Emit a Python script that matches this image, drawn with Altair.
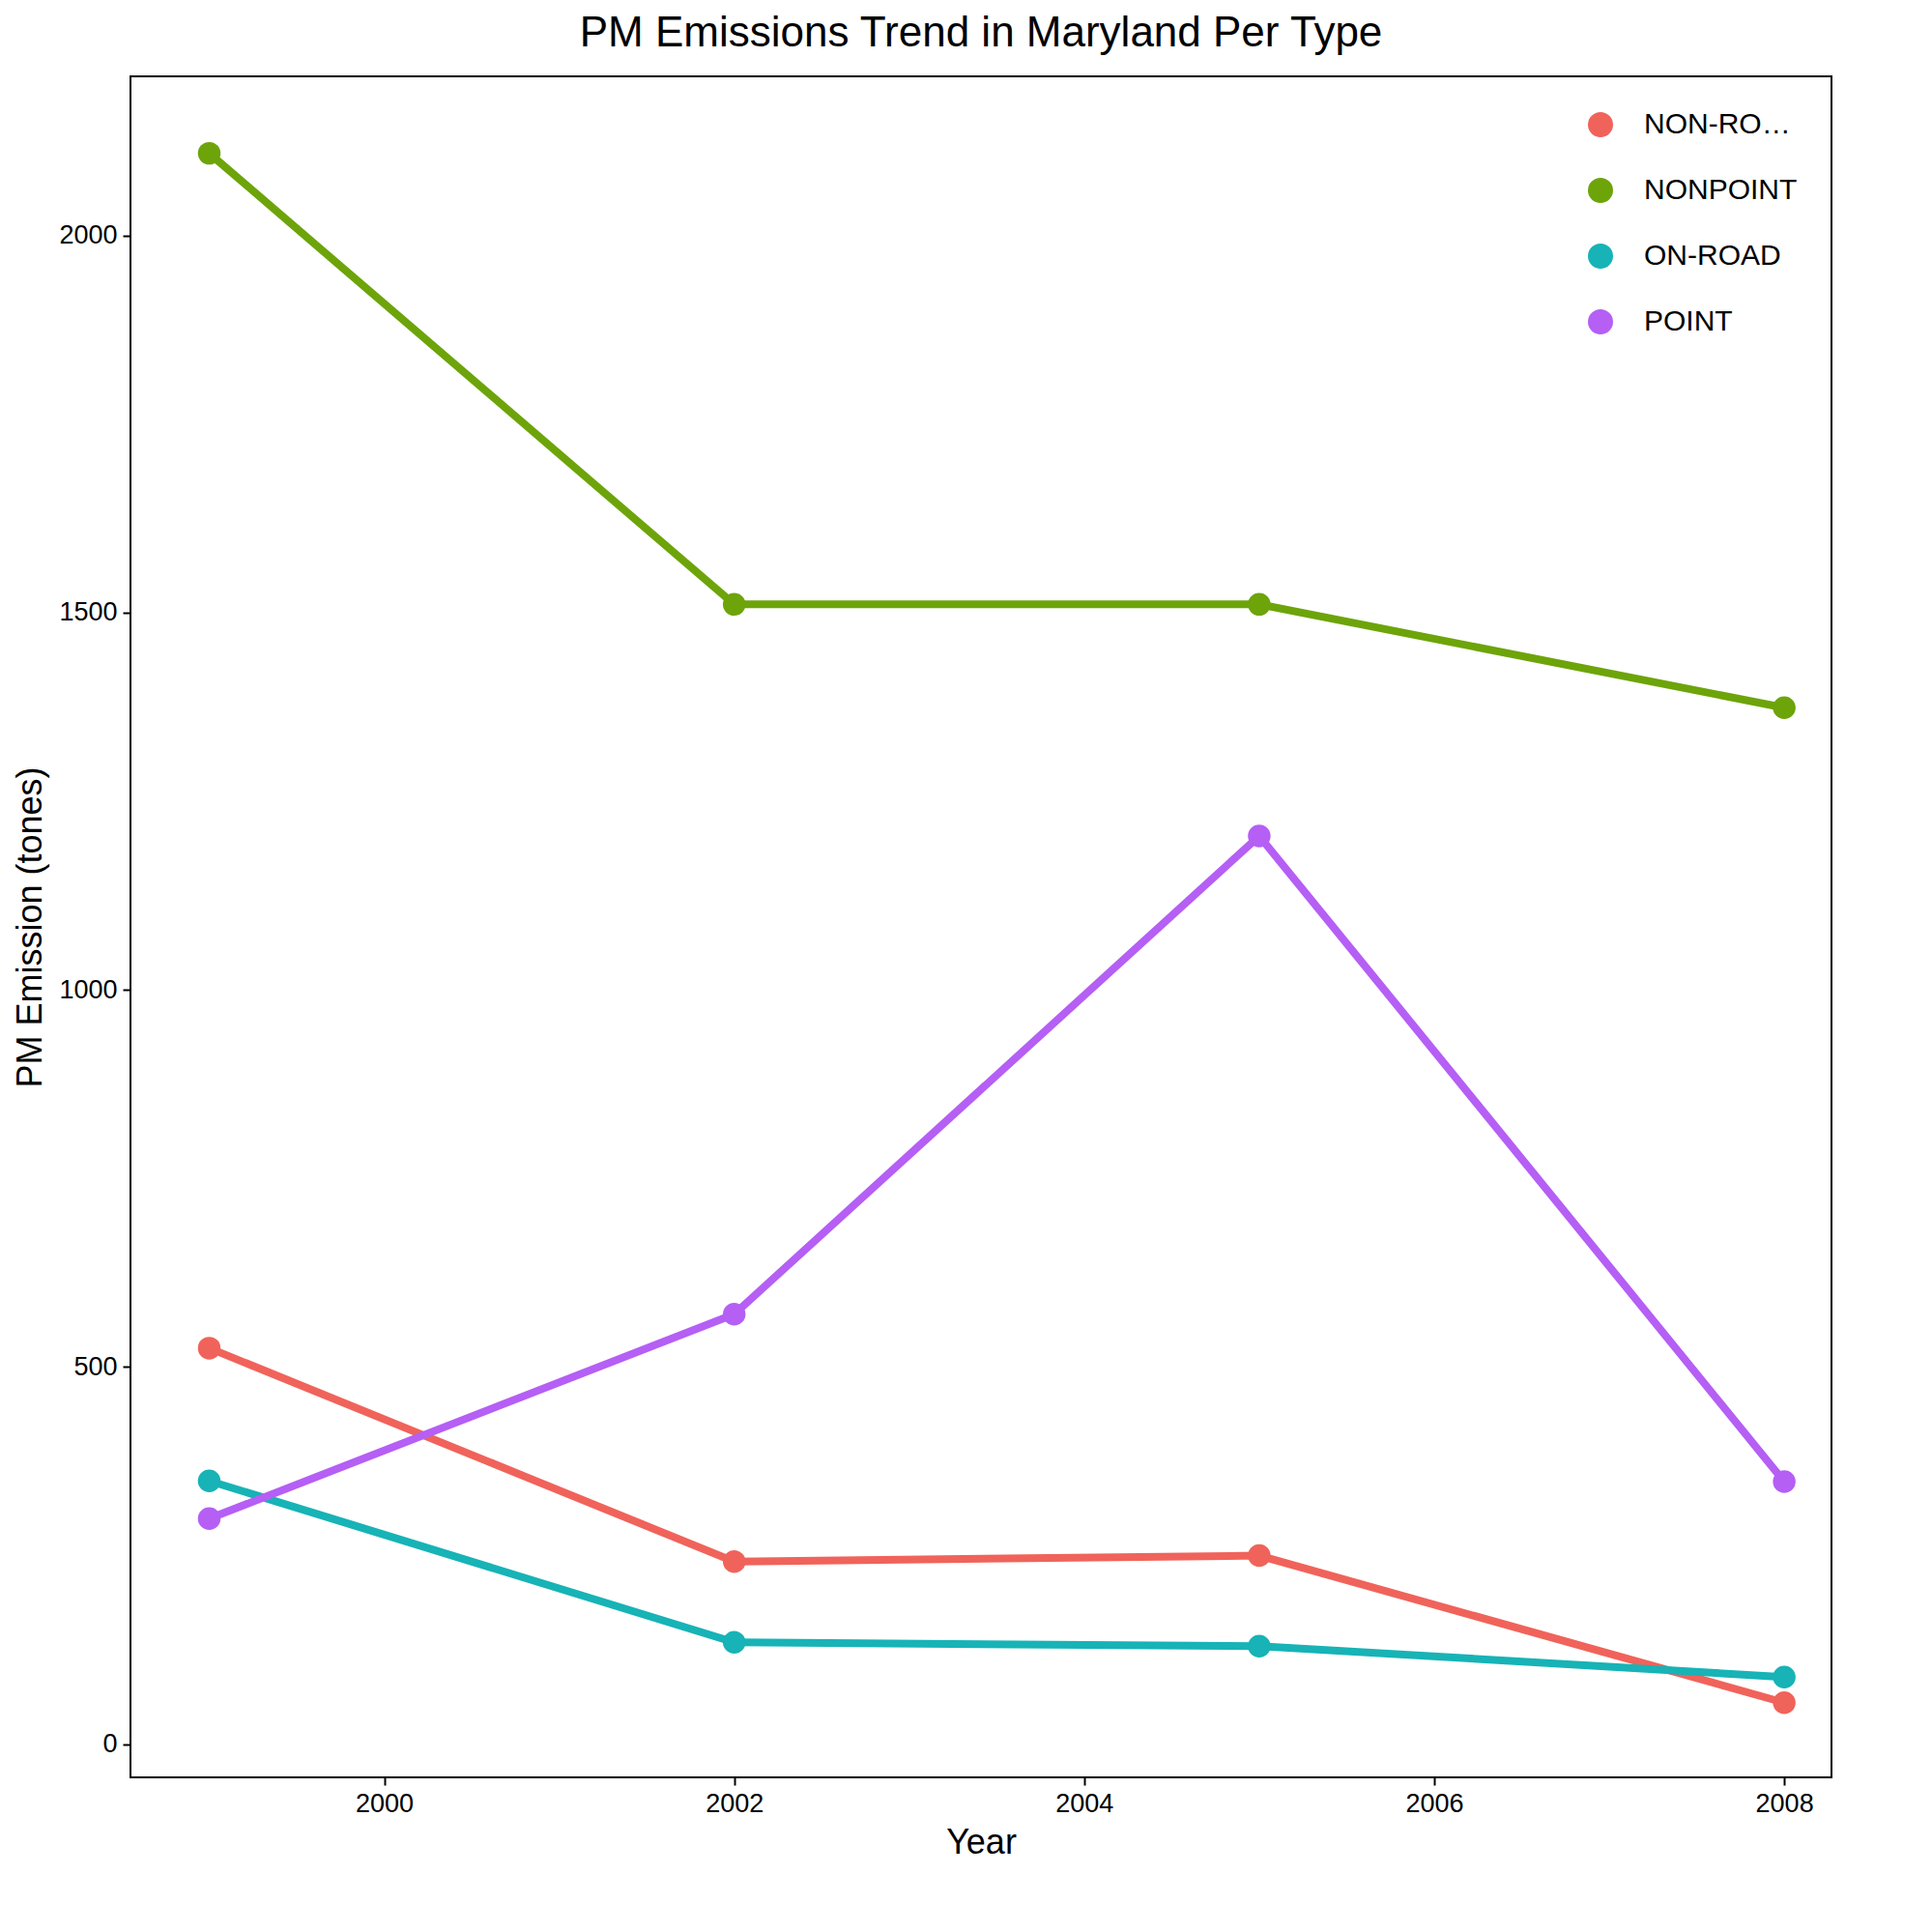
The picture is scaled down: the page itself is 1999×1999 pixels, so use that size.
import pandas as pd
import altair as alt

years = [1999, 2002, 2005, 2008]
types = ['NON-ROAD', 'NONPOINT', 'ON-ROAD', 'POINT']
non_road = [525, 242, 250, 55]
nonpoint = [2109, 1511, 1511, 1374]
on_road = [349, 135, 130, 89]
point = [299, 570, 1204, 348]
colors = ['#F0635B', '#6DA40A', '#17B3B6', '#B55FF5']

rows = []
for t, vals in zip(types, [non_road, nonpoint, on_road, point]):
    for y, v in zip(years, vals):
        rows.append({'year': y, 'type': t, 'Emissions': v})
df = pd.DataFrame(rows)

font = 'Liberation Sans'
x = alt.X('year:Q', title='Year', scale=alt.Scale(domain=[1998.55, 2008.27], nice=False, zero=False),
          axis=alt.Axis(values=[2000, 2002, 2004, 2006, 2008], format='d', grid=False))
y = alt.Y('Emissions:Q', title='PM Emission (tones)', scale=alt.Scale(domain=[-44, 2211], nice=False),
          axis=alt.Axis(values=[0, 500, 1000, 1500, 2000], format='d', grid=False))
color = alt.Color('type:N', scale=alt.Scale(domain=types, range=colors),
                  legend=alt.Legend(title=None, orient='top-right', offset=35, symbolType='circle',
                                    symbolSize=600, labelFontSize=30, rowPadding=36, labelOffset=30,
                                    labelFont=font, labelColor='black'))

base = alt.Chart(df).encode(x=x, y=y, color=color)
chart = (base.mark_line(strokeWidth=8) + base.mark_circle(size=550, opacity=1)).properties(
    width=1760, height=1760,
    title=alt.TitleParams('PM Emissions Trend in Maryland Per Type', fontSize=44, font=font,
                          fontWeight='normal', anchor='middle', offset=22),
).configure_view(stroke='black', strokeWidth=2).configure_axis(
    labelFont=font, titleFont=font, labelFontSize=27, titleFontSize=36, titleFontWeight='normal',
    labelColor='black', titleColor='black', domain=False, tickColor='black', tickSize=8, tickWidth=2,
    labelPadding=6, titlePadding=10
)
chart.save("out.html", embed_options={"renderer": "svg", "actions": False})
